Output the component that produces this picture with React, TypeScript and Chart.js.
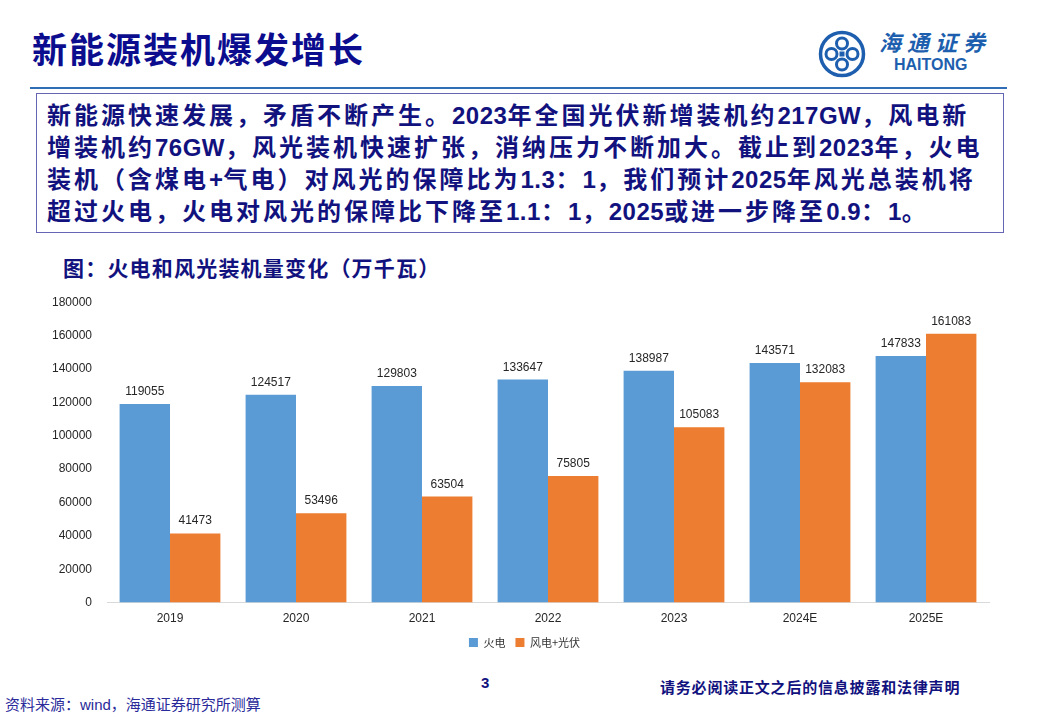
import React, { useEffect, useRef } from "react";
import { Chart, registerables } from "chart.js";

Chart.register(...registerables);

// ---- data ----
const categories = ["2019", "2020", "2021", "2022", "2023", "2024E", "2025E"];
const thermalPower = [119055, 124517, 129803, 133647, 138987, 143571, 147833];
const windSolar = [41473, 53496, 63504, 75805, 105083, 132083, 161083];
const seriesNames = ["火电", "风电+光伏"];
const yMin = 0;
const yMax = 180000;
const yStep = 20000;

const pageTitle = "新能源装机爆发增长";
const summaryLines = [
  "新能源快速发展，矛盾不断产生。2023年全国光伏新增装机约217GW，风电新",
  "增装机约76GW，风光装机快速扩张，消纳压力不断加大。截止到2023年，火电",
  "装机（含煤电+气电）对风光的保障比为1.3：1，我们预计2025年风光总装机将",
  "超过火电，火电对风光的保障比下降至1.1：1，2025或进一步降至0.9：1。",
];
const chartTitle = "图：火电和风光装机量变化（万千瓦）";
const sourceNote = "资料来源：wind，海通证券研究所测算";
const disclaimer = "请务必阅读正文之后的信息披露和法律声明";
const pageNumber = "3";

const BLUE = "#5B9BD5";
const ORANGE = "#ED7D31";
const NAVY = "#12127f";
const LATIN = "'Liberation Sans', Arial, 'Noto Sans CJK SC', sans-serif";
const CJK = "'Liberation Sans', 'Noto Sans CJK SC', sans-serif";

const valueLabels = {
  id: "valueLabels",
  afterDatasetsDraw(chart: any) {
    const ctx = chart.ctx;
    ctx.save();
    ctx.font = "12px 'Liberation Sans', Arial, sans-serif";
    ctx.fillStyle = "#262626";
    ctx.textAlign = "center";
    ctx.textBaseline = "alphabetic";
    chart.data.datasets.forEach((ds: any, i: number) => {
      const meta = chart.getDatasetMeta(i);
      meta.data.forEach((el: any, j: number) => {
        ctx.fillText(String(ds.data[j]), el.x, el.y - 9);
      });
    });
    ctx.restore();
  },
};

// nudges the legend row so it is centred where the slide has it
const legendShift = {
  id: "legendShift",
  afterLayout(chart: any) {
    const lg = chart.legend;
    if (!lg) return;
    lg.left += 10;
    lg.right += 10;
    if (lg.legendHitBoxes) lg.legendHitBoxes.forEach((h: any) => (h.left += 10));
  },
};

function BarChart() {
  const ref = useRef<HTMLCanvasElement | null>(null);
  useEffect(() => {
    if (!ref.current) return;
    const chart = new Chart(ref.current, {
      type: "bar",
      data: {
        labels: categories,
        datasets: [
          { label: seriesNames[0], data: thermalPower, backgroundColor: BLUE },
          { label: seriesNames[1], data: windSolar, backgroundColor: ORANGE },
        ],
      },
      options: {
        animation: false,
        responsive: false,
        maintainAspectRatio: false,
        layout: { padding: { left: 0, right: 21, top: 22, bottom: 0 } },
        datasets: { bar: { categoryPercentage: 0.8, barPercentage: 1.0 } },
        plugins: {
          legend: {
            position: "bottom",
            labels: {
              boxWidth: 9,
              boxHeight: 9,
              padding: 10,
              color: "#333",
              font: { size: 11, family: "'Noto Sans CJK SC', sans-serif" },
            },
          },
          tooltip: { enabled: false },
        },
        scales: {
          x: {
            grid: { display: false, drawTicks: false },
            border: { display: true, color: "#d9d9d9", width: 1 },
            ticks: { color: "#262626", padding: 9, font: { size: 12, family: LATIN } },
            afterFit(scale: any) {
              scale.height = scale.height - 8;
            },
          },
          y: {
            min: yMin,
            max: yMax,
            grid: { display: false, drawTicks: false },
            border: { display: false },
            ticks: {
              stepSize: yStep,
              color: "#262626",
              padding: 15,
              font: { size: 12, family: LATIN },
              callback: (v: any) => String(v),
            },
            afterFit(scale: any) {
              scale.width = 67;
            },
          },
        },
      },
      plugins: [valueLabels, legendShift],
    });
    return () => chart.destroy();
  }, []);
  return (
    <canvas
      ref={ref}
      width={970}
      height={378}
      style={{ position: "absolute", left: 40, top: 280, width: 970, height: 378 }}
    />
  );
}

function Logo() {
  const c = "#1d5fae";
  return (
    <>
      <svg
        width={50}
        height={50}
        viewBox="0 0 50 50"
        style={{ position: "absolute", left: 817, top: 29 }}
      >
        <circle cx={25} cy={25} r={21.5} fill="none" stroke={c} strokeWidth={3.5} />
        <circle cx={25} cy={14.5} r={5.5} fill="none" stroke={c} strokeWidth={3} />
        <circle cx={35.5} cy={25} r={5.5} fill="none" stroke={c} strokeWidth={3} />
        <circle cx={25} cy={35.5} r={5.5} fill="none" stroke={c} strokeWidth={3} />
        <circle cx={14.5} cy={25} r={5.5} fill="none" stroke={c} strokeWidth={3} />
        <rect x={22.5} y={22.5} width={5} height={5} fill={c} />
      </svg>
      <div
        style={{
          position: "absolute",
          left: 879,
          top: 28,
          fontFamily: "'Noto Sans CJK SC', sans-serif",
          fontSize: 22,
          fontWeight: 700,
          fontStyle: "italic",
          letterSpacing: 6,
          color: c,
          lineHeight: "26px",
          whiteSpace: "nowrap",
        }}
      >
        海通证券
      </div>
      <div
        style={{
          position: "absolute",
          left: 894,
          top: 56,
          fontFamily: LATIN,
          fontSize: 16,
          fontWeight: 700,
          color: c,
          lineHeight: "18px",
          whiteSpace: "nowrap",
        }}
      >
        HAITONG
      </div>
    </>
  );
}

function MixedLine({ text }: { text: string }) {
  const parts = text.split(/([\x20-\x7E]+)/).filter((p) => p.length > 0);
  return (
    <div>
      {parts.map((p, i) =>
        /^[\x20-\x7E]+$/.test(p) ? (
          <span key={i} style={{ letterSpacing: 0.5 }}>
            {p}
          </span>
        ) : (
          <span key={i}>{p}</span>
        )
      )}
    </div>
  );
}

export default function App() {
  return (
    <div
      style={{
        position: "fixed",
        left: 0,
        top: 0,
        width: 1040,
        height: 718,
        background: "#fff",
        overflow: "hidden",
      }}
    >
      <div
        style={{
          position: "absolute",
          left: 32,
          top: 26,
          fontFamily: "'Noto Sans CJK SC', sans-serif",
          fontSize: 35,
          fontWeight: 700,
          letterSpacing: 2,
          color: "#0c0c8f",
          lineHeight: "44px",
          whiteSpace: "nowrap",
        }}
      >
        {pageTitle}
      </div>
      <Logo />
      <div
        style={{
          position: "absolute",
          left: 30,
          top: 87,
          width: 977,
          height: 2,
          background: "#2f6db5",
        }}
      />
      <div
        style={{
          position: "absolute",
          left: 36,
          top: 93,
          width: 966,
          height: 138,
          border: "1.5px solid #6565b3",
        }}
      />
      <div
        style={{
          position: "absolute",
          left: 47,
          top: 100,
          fontFamily: CJK,
          fontSize: 24,
          fontWeight: 700,
          letterSpacing: 3,
          color: NAVY,
          lineHeight: "32px",
          whiteSpace: "nowrap",
        }}
      >
        {summaryLines.map((l, i) => (
          <MixedLine key={i} text={l} />
        ))}
      </div>
      <div
        style={{
          position: "absolute",
          left: 63,
          top: 256,
          fontFamily: CJK,
          fontSize: 21,
          fontWeight: 700,
          letterSpacing: 1.2,
          color: NAVY,
          lineHeight: "26px",
          whiteSpace: "nowrap",
        }}
      >
        {chartTitle}
      </div>
      <BarChart />
      <div
        style={{
          position: "absolute",
          left: 481,
          top: 674,
          fontFamily: LATIN,
          fontSize: 15,
          fontWeight: 700,
          color: NAVY,
          lineHeight: "18px",
        }}
      >
        {pageNumber}
      </div>
      <div
        style={{
          position: "absolute",
          left: 660,
          top: 678,
          fontFamily: CJK,
          fontSize: 15,
          fontWeight: 700,
          letterSpacing: 0.8,
          color: NAVY,
          lineHeight: "20px",
          whiteSpace: "nowrap",
        }}
      >
        {disclaimer}
      </div>
      <div
        style={{
          position: "absolute",
          left: 5,
          top: 696,
          fontFamily: CJK,
          fontSize: 15,
          color: "#2a2a9a",
          lineHeight: "18px",
          whiteSpace: "nowrap",
        }}
      >
        {sourceNote}
      </div>
    </div>
  );
}
